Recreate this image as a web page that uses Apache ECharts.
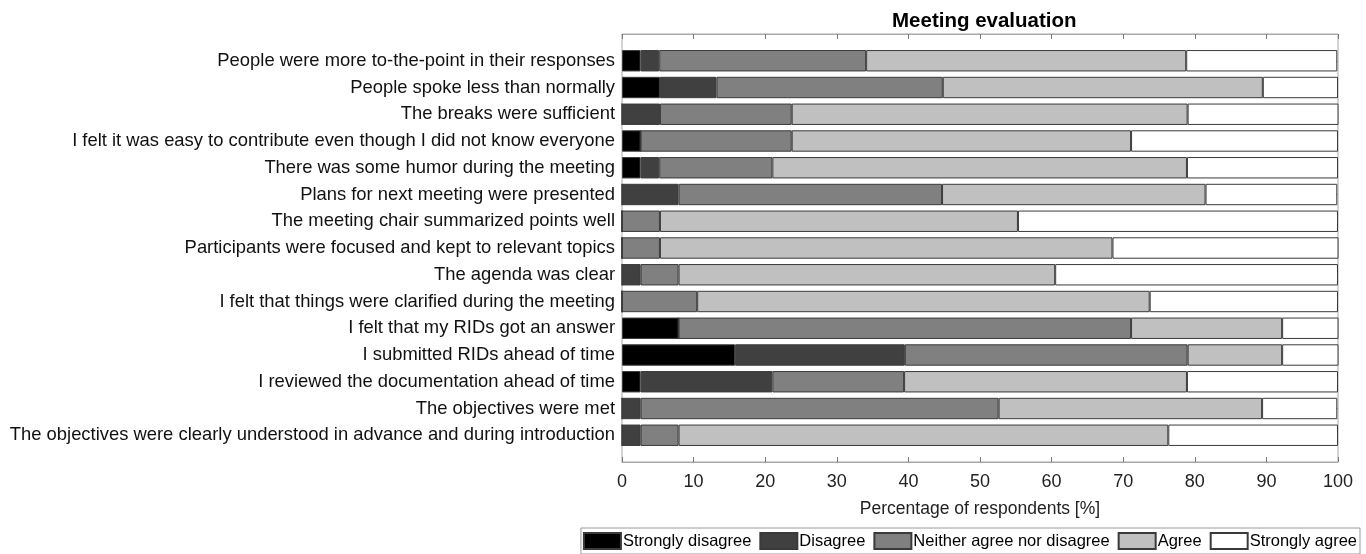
<!DOCTYPE html>
<html>
<head>
<meta charset="utf-8">
<script src="https://cdn.jsdelivr.net/npm/echarts@6/dist/echarts.min.js"></script>
<style>
  html, body { margin: 0; padding: 0; background: #fff; }
  #chart { width: 1366px; height: 554px; }
</style>
</head>
<body>
<div id="chart"></div>
<script>
// categories, top to bottom
const categories = [
    'People were more to-the-point in their responses',
    'People spoke less than normally',
    'The breaks were sufficient',
    'I felt it was easy to contribute even though I did not know everyone',
    'There was some humor during the meeting',
    'Plans for next meeting were presented',
    'The meeting chair summarized points well',
    'Participants were focused and kept to relevant topics',
    'The agenda was clear',
    'I felt that things were clarified during the meeting',
    'I felt that my RIDs got an answer',
    'I submitted RIDs ahead of time',
    'I reviewed the documentation ahead of time',
    'The objectives were met',
    'The objectives were clearly understood in advance and during introduction'
];

// percentages
const stronglyDisagree = [2.6, 5.3, 0, 2.6, 2.6, 0, 0, 0, 0, 0, 7.9, 15.8, 2.6, 0, 0];
const disagree = [2.6, 7.9, 5.3, 0, 2.6, 7.9, 0, 0, 2.6, 0, 0, 23.7, 18.4, 2.6, 2.6];
const neither = [28.9, 31.6, 18.4, 21.1, 15.8, 36.8, 5.3, 5.3, 5.3, 10.5, 63.2, 39.5, 18.4, 50.0, 5.3];
const agree = [44.7, 44.7, 55.3, 47.4, 57.9, 36.8, 50.0, 63.2, 52.6, 63.2, 21.1, 13.2, 39.5, 36.8, 68.4];
const stronglyAgree = [21.1, 10.5, 21.1, 28.9, 21.1, 18.4, 44.7, 31.6, 39.5, 26.3, 7.9, 7.9, 21.1, 10.5, 23.7];

const xTicks = [0, 10, 20, 30, 40, 50, 60, 70, 80, 90, 100];

const seriesDefs = [
    { name: 'Strongly disagree', data: stronglyDisagree, color: '#000000' },
    { name: 'Disagree', data: disagree, color: '#404040' },
    { name: 'Neither agree nor disagree', data: neither, color: '#808080' },
    { name: 'Agree', data: agree, color: '#c0c0c0' },
    { name: 'Strongly agree', data: stronglyAgree, color: '#ffffff' }
];

const font = 'Liberation Sans';
const frameColor = '#a8a8a8';

// box: 622..1338 x 34..462, y range 0..16 -> band 26.75px
const boxTop = 34, boxH = 428;
const band = boxH / 16;

var chart = echarts.init(document.getElementById('chart'));
var option = {
    animation: false,
    textStyle: { fontFamily: font },
    title: {
        text: 'Meeting evaluation',
        left: 887,
        top: 6,
        textStyle: { fontFamily: font, fontSize: 20.5, fontWeight: 'bold', color: '#000' }
    },
    legend: {
        right: 6,
        bottom: 0,
        icon: 'rect',
        itemWidth: 37,
        itemHeight: 16,
        itemGap: 8,
        padding: [4, 3, 4, 2],
        borderColor: '#999',
        borderWidth: 1,
        textStyle: { fontFamily: font, fontSize: 16.5, color: '#000', padding: [0, 0, 0, -3] },
        data: seriesDefs.map(s => s.name)
    },
    grid: [
        { left: 622, top: boxTop, width: 716, height: boxH, show: true, borderColor: frameColor, borderWidth: 1, backgroundColor: 'transparent' },
        { left: 622, top: boxTop + band / 2, width: 716, height: band * 15 }
    ],
    xAxis: [
        {
            gridIndex: 0, type: 'value', min: 0, max: 100, interval: 10, position: 'bottom',
            axisLine: { show: true, lineStyle: { color: frameColor } },
            axisTick: { show: true, inside: true, length: 5, lineStyle: { color: '#777' } },
            splitLine: { show: false },
            axisLabel: { fontFamily: font, fontSize: 18, color: '#222', margin: 11,
                formatter: v => xTicks.indexOf(v) >= 0 ? String(v) : '' },
            name: 'Percentage of respondents [%]',
            nameLocation: 'middle',
            nameGap: 38,
            nameTextStyle: { fontFamily: font, fontSize: 17.5, color: '#222' }
        },
        {
            gridIndex: 0, type: 'value', min: 0, max: 100, interval: 10, position: 'top',
            axisLine: { show: true, lineStyle: { color: frameColor } },
            axisTick: { show: true, inside: true, length: 5, lineStyle: { color: '#777' } },
            splitLine: { show: false },
            axisLabel: { show: false }
        },
        { gridIndex: 1, type: 'value', min: 0, max: 100, show: false }
    ],
    yAxis: [
        { gridIndex: 0, type: 'value', min: 0, max: 16, show: false },
        {
            gridIndex: 1, type: 'category', inverse: true, data: categories,
            axisLine: { show: false },
            axisTick: { show: true, inside: true, alignWithLabel: true, length: 5, lineStyle: { color: '#999' } },
            axisLabel: { fontFamily: font, fontSize: 18.4, color: '#111', margin: 7 }
        },
        {
            gridIndex: 1, type: 'category', inverse: true, data: categories, position: 'right',
            axisLine: { show: false },
            axisTick: { show: true, inside: true, alignWithLabel: true, length: 5, lineStyle: { color: '#999' } },
            axisLabel: { show: false }
        }
    ],
    series: seriesDefs.map(s => ({
        name: s.name,
        type: 'bar',
        stack: 'total',
        xAxisIndex: 2,
        yAxisIndex: 1,
        barWidth: '80%',
        data: s.data,
        itemStyle: { color: s.color, borderColor: '#3a3a3a', borderWidth: 1 },
        emphasis: { disabled: true }
    }))
};
chart.setOption(option);
</script>
</body>
</html>
